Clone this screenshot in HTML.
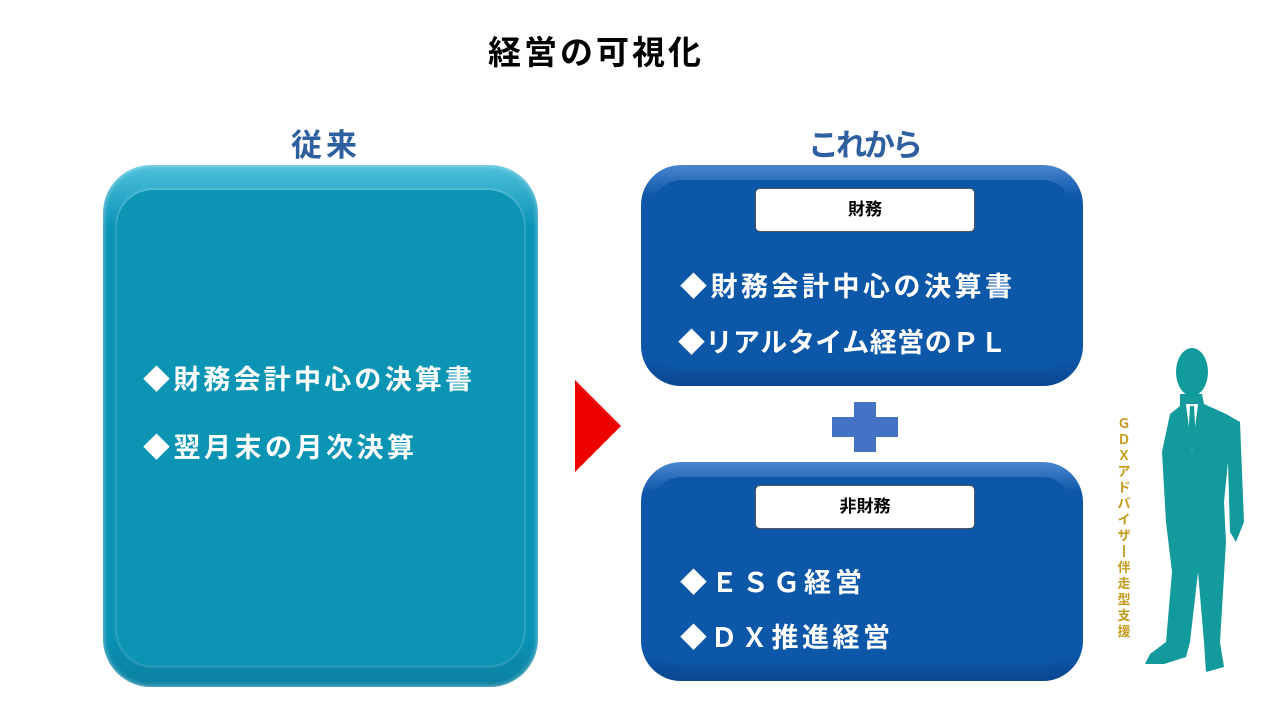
<!DOCTYPE html>
<html><head><meta charset="utf-8"><style>
body{margin:0;width:1280px;height:720px;background:#fff;position:relative;overflow:hidden;font-family:"Liberation Sans","Noto Sans CJK JP",sans-serif;font-weight:bold}
.a{position:absolute;white-space:nowrap}
.box{position:absolute;border-radius:48px}
.lbl{position:absolute;background:#fff;border:1px solid #555;border-radius:5px;text-align:center;font-size:17px;color:#000;line-height:42px}
.t{position:absolute;color:#fff;font-size:27px;white-space:nowrap;letter-spacing:3px}
</style></head><body>
<div class="a" style="left:488px;top:26px;font-size:33px;color:#000;letter-spacing:3px">経営の可視化</div>
<div class="a" style="left:291px;top:120px;font-size:31px;color:#2e5f9f;letter-spacing:4px">従来</div>
<div class="a" style="left:808px;top:120px;font-size:31px;color:#2e5f9f;letter-spacing:-3px">これから</div>

<div class="box" style="left:103px;top:165px;width:435px;height:522px;background:linear-gradient(#4fc0dc,#0a93b5 12%,#0a93b5 90%,#0b7fa0);box-shadow:inset 0 0 6px rgba(255,255,255,.6)"></div>
<div class="box" style="left:117px;top:190px;width:407px;height:476px;background:#0b94b4;border-radius:36px;box-shadow:0 0 3px rgba(255,255,255,.5)"></div>
<div class="t" style="left:143px;top:358px;letter-spacing:3.2px">◆財務会計中心の決算書</div>
<div class="t" style="left:143px;top:426px;letter-spacing:3.5px">◆翌月末の月次決算</div>

<svg class="a" style="left:575px;top:380px" width="46" height="92"><polygon points="0,0 46,46 0,92" fill="#ee0000"/></svg>

<div class="box" style="left:641px;top:165px;width:442px;height:221px;border-radius:40px;background:linear-gradient(#4a86cf,#0d57a8 14%,#0d57a8 88%,#0a4690)"></div>
<div class="box" style="left:652px;top:180px;width:420px;height:190px;border-radius:30px;background:#0d57a8"></div>
<div class="lbl" style="left:755px;top:188px;width:218px;height:42px">財務</div>
<div class="t" style="left:680px;top:265px;letter-spacing:3.5px">◆財務会計中心の決算書</div>
<div class="t" style="left:678px;top:321px;letter-spacing:0.5px">◆リアルタイム経営のＰＬ</div>

<svg class="a" style="left:832px;top:402px" width="66" height="50"><path d="M22 0h22v15h22v20h-22v15h-22v-15h-22v-20h22z" fill="#4472c4"/></svg>

<div class="box" style="left:641px;top:462px;width:442px;height:219px;border-radius:40px;background:linear-gradient(#4a86cf,#0d57a8 14%,#0d57a8 88%,#0a4690)"></div>
<div class="box" style="left:652px;top:477px;width:420px;height:188px;border-radius:30px;background:#0d57a8"></div>
<div class="lbl" style="left:755px;top:485px;width:218px;height:42px">非財務</div>
<div class="t" style="left:680px;top:561px;letter-spacing:4px">◆ＥＳＧ経営</div>
<div class="t" style="left:680px;top:616px;letter-spacing:3.5px">◆ＤＸ推進経営</div>

<div class="a" style="left:1116px;top:416px;width:16px;font-size:13px;line-height:16px;color:#c49a1a;white-space:normal;text-align:center">Ｇ<br>Ｄ<br>Ｘ<br>ア<br>ド<br>バ<br>イ<br>ザ<br>丨<br>伴<br>走<br>型<br>支<br>援</div>

<svg class="a" style="left:1140px;top:342px" width="120" height="340"><g fill="#139a9c">
<ellipse cx="52" cy="30" rx="16" ry="24"/>
<path d="M40 52 L62 52 L64 62 L86 72 L100 80 L104 180 L96 200 L90 190 L88 120 L84 160 L86 200 L80 300 L84 325 L66 330 L64 300 L58 230 L50 300 L46 315 L24 322 L5 322 L10 312 L26 300 L32 230 L26 180 L22 110 L30 72 L40 64 Z"/>
</g><path d="M46 62 L58 62 L52 110 Z" fill="#fff"/><path d="M50 64 L54 64 L56 100 L52 108 L48 100 Z" fill="#139a9c"/></svg>
</body></html>
